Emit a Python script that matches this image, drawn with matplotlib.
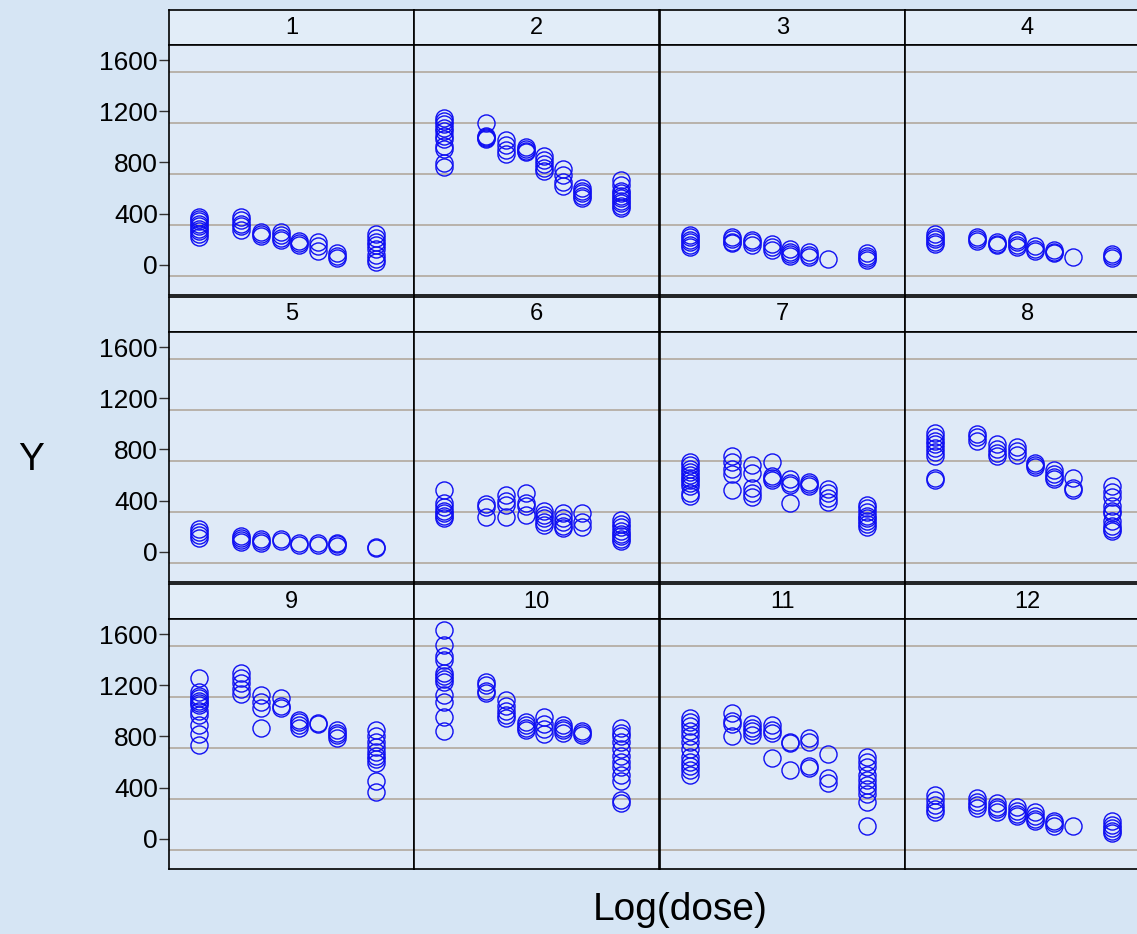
import matplotlib.pyplot as plt

plt.rcParams['font.family'] = ['Liberation Sans', 'DejaVu Sans']

# log dose positions (same for every subject)
log_dose = [0.87, 2.07, 2.63, 3.19, 3.71, 4.26, 4.79, 5.91]

# responses per subject, one list per dose level
p1 = [[375, 360, 340, 320, 300, 280, 260, 240, 220], [375, 350, 320, 300, 270], [255, 240, 225],
      [255, 230, 210, 195], [185, 170, 155], [178, 145, 110], [90, 70, 50],
      [240, 210, 180, 150, 125, 75, 45, 20]]
p2 = [[1147, 1123, 1098, 1072, 1045, 1006, 980, 928, 902, 797, 768], [1110, 1010, 1000, 990, 985],
      [975, 940, 900, 870], [920, 905, 890, 880], [850, 820, 790, 760, 735], [750, 700, 650, 615],
      [600, 580, 560, 540, 525], [660, 620, 580, 560, 540, 520, 500, 480, 460, 440]]
p3 = [[235, 215, 195, 175, 155, 135], [220, 200, 180, 170], [195, 175, 150], [165, 140, 115],
      [125, 100, 80, 70], [100, 75, 60], [47], [90, 70, 50, 40]]
p4 = [[240, 220, 200, 180, 160], [215, 200, 185], [180, 165, 155], [195, 175, 155, 135],
      [145, 125, 105], [115, 100, 92], [60], [85, 70, 55]]
p5 = [[175, 150, 130, 110], [125, 105, 90, 75], [100, 80, 65], [95, 85], [65, 55], [70, 50],
      [70, 60, 45], [35, 25]]
p6 = [[480, 380, 350, 320, 300, 280, 265], [370, 350, 270], [440, 395, 365, 270], [460, 380, 355, 290],
      [320, 290, 260, 230, 210], [300, 260, 230, 200, 185], [305, 230, 195],
      [245, 220, 190, 160, 140, 120, 100, 85]]
p7 = [[700, 680, 650, 620, 600, 580, 560, 540, 510, 460, 435], [750, 700, 650, 610, 480],
      [680, 615, 500, 460, 430], [700, 595, 575, 560], [565, 540, 520, 380], [545, 530, 515],
      [490, 460, 420, 385], [365, 340, 310, 280, 260, 240, 215, 190]]
p8 = [[930, 900, 870, 840, 810, 780, 750, 580, 560], [925, 900, 870], [840, 800, 770, 745],
      [820, 790, 755], [695, 680, 665], [640, 610, 585, 565], [580, 500, 485],
      [510, 470, 430, 360, 320, 300, 240, 200, 180, 160]]
p9 = [[1255, 1150, 1120, 1100, 1080, 1060, 1045, 1000, 970, 890, 820, 730], [1295, 1260, 1220, 1170, 1130],
      [1125, 1070, 1020, 870], [1105, 1040, 1020], [930, 910, 890, 865], [905, 895], [850, 830, 810, 790],
      [850, 800, 760, 720, 680, 650, 620, 590, 450, 365]]
p10 = [[1630, 1515, 1430, 1400, 1300, 1270, 1250, 1230, 1125, 1070, 955, 840], [1230, 1200, 1160, 1140],
       [1085, 1040, 1000, 970, 945], [915, 890, 870, 850], [955, 900, 860, 820], [890, 870, 850, 825],
       [840, 825, 810], [865, 830, 800, 760, 700, 650, 600, 560, 500, 450, 300, 280]]
p11 = [[945, 910, 880, 840, 800, 760, 700, 640, 600, 570, 540, 500], [980, 920, 900, 800],
       [900, 870, 840, 810], [890, 850, 825, 635], [760, 750, 540], [785, 760, 570, 555],
       [660, 475, 435], [640, 600, 560, 500, 460, 420, 390, 350, 290, 95]]
p12 = [[340, 300, 260, 230, 210], [315, 290, 260, 240], [275, 250, 230, 210], [250, 220, 195, 175],
       [210, 180, 155, 135], [140, 120, 100], [100], [140, 110, 80, 60, 42]]

panels = [p1, p2, p3, p4, p5, p6, p7, p8, p9, p10, p11, p12]
panel_names = [str(i) for i in range(1, 13)]
y_ticks = [0, 400, 800, 1200, 1600]
grid_vals = [-91, 309, 709, 1109, 1509]

W, H = 1137, 934
fig = plt.figure(figsize=(W / 100, H / 100), dpi=100)
fig.patch.set_facecolor('#d6e5f4')

col_left = [169, 414, 660, 905]
panel_w = 245
row_top = [10, 297, 584]
strip_h = 35
plot_h = 250


def px(x, y, w, h):
    return [x / W, 1 - (y + h) / H, w / W, h / H]


for i, data in enumerate(panels):
    r, c = divmod(i, 4)
    x0 = col_left[c]
    # header strip
    sax = fig.add_axes(px(x0, row_top[r], panel_w, strip_h))
    sax.set_facecolor('#e2edf8')
    sax.set_xticks([])
    sax.set_yticks([])
    for s in sax.spines.values():
        s.set_linewidth(1.2)
        s.set_color('black')
    sax.text(0.5, 0.5, panel_names[i], ha='center', va='center', fontsize=17,
             transform=sax.transAxes)

    # plot area
    ax = fig.add_axes(px(x0, row_top[r] + strip_h, panel_w, plot_h))
    ax.set_facecolor('#dfeaf7')
    for g in grid_vals:
        ax.axhline(g, color='#b5aea4', lw=1.3, zorder=1)
    for xd, ys in zip(log_dose, data):
        ax.plot([xd] * len(ys), ys, 'o', mfc='none', mec='#0f0ff2', ms=12.3, mew=1.0,
                zorder=3, clip_on=False)
    ax.set_xlim(0, 7)
    ax.set_ylim(-238, 1720)
    ax.set_xticks([])
    for s in ax.spines.values():
        s.set_linewidth(1.2)
        s.set_color('black')
    if c == 0:
        ax.set_yticks(y_ticks)
        ax.set_yticklabels([str(t) for t in y_ticks], fontsize=19)
        ax.tick_params(axis='y', length=7, width=1, pad=1, color='#333333')
    else:
        ax.set_yticks([])

fig.text(31 / W, 1 - 460 / H, 'Y', fontsize=28, ha='center', va='center')
fig.text(680 / W, 1 - 910 / H, 'Log(dose)', fontsize=28, ha='center', va='center')

fig.savefig('out.png', dpi=100, facecolor=fig.get_facecolor())
